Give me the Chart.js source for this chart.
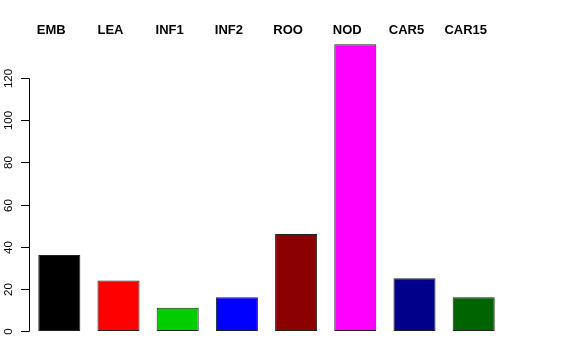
<!DOCTYPE html>
<html>
<head>
<meta charset="utf-8">
<script src="https://cdn.jsdelivr.net/npm/chart.js@4/dist/chart.umd.min.js"></script>
<style>
html,body{margin:0;padding:0;background:#fff;}
#wrap{width:576px;height:360px;position:relative;}
</style>
</head>
<body>
<div id="wrap"><canvas id="c" width="576" height="360"></canvas></div>
<script>
const categories = ["EMB", "LEA", "INF1", "INF2", "ROO", "NOD", "CAR5", "CAR15"];
const values = [36, 24, 11, 16, 46, 136, 25, 16];
const barColors = ["#000000", "#FF0000", "#00CD00", "#0000FF", "#8B0000", "#FF00FF", "#00008B", "#006400"];
const yTickValues = [0, 20, 40, 60, 80, 100, 120];

const yAxisPlugin = {
  id: 'rYAxis',
  afterDraw(chart) {
    const y = chart.scales.y;
    const ctx = chart.ctx;
    const ax = 29;
    ctx.save();
    ctx.strokeStyle = '#000';
    ctx.lineWidth = 1;
    ctx.beginPath();
    ctx.moveTo(ax + 0.5, Math.round(y.getPixelForValue(yTickValues[0])) + 0.5);
    ctx.lineTo(ax + 0.5, Math.round(y.getPixelForValue(yTickValues[yTickValues.length - 1])) + 0.5);
    ctx.stroke();
    ctx.font = '11.5px "Liberation Sans", Arial, sans-serif';
    ctx.fillStyle = '#000';
    ctx.textAlign = 'center';
    ctx.textBaseline = 'middle';
    yTickValues.forEach(v => {
      const py = Math.round(y.getPixelForValue(v)) + 0.5;
      ctx.beginPath();
      ctx.moveTo(ax - 8, py);
      ctx.lineTo(ax + 0.5, py);
      ctx.stroke();
      ctx.save();
      ctx.translate(9, py);
      ctx.rotate(-Math.PI / 2);
      ctx.fillText(String(v), 0, 0);
      ctx.restore();
    });
    ctx.restore();
  }
};

new Chart(document.getElementById('c'), {
  type: 'bar',
  data: {
    labels: categories,
    datasets: [{
      data: values,
      backgroundColor: barColors,
      borderColor: '#222222',
      borderWidth: 1,
      borderSkipped: false,
      barPercentage: 0.71,
      categoryPercentage: 1.0
    }]
  },
  options: {
    responsive: false,
    animation: false,
    devicePixelRatio: 1,
    layout: { padding: { left: 29.7, right: 72.7, top: 21.5, bottom: 29 } },
    plugins: { legend: { display: false }, tooltip: { enabled: false } },
    scales: {
      x: {
        type: 'category',
        position: 'top',
        grid: { display: false, drawTicks: false },
        border: { display: false },
        ticks: {
          color: '#000',
          font: { family: '"Liberation Sans", Arial, sans-serif', size: 13, weight: 'bold' },
          padding: 1.5,
          labelOffset: -8,
          autoSkip: false,
          maxRotation: 0,
          minRotation: 0
        }
      },
      y: {
        display: false,
        min: 0,
        max: 138,
        afterBuildTicks(scale) {
          scale.ticks = yTickValues.map(v => ({ value: v }));
        }
      }
    }
  },
  plugins: [yAxisPlugin]
});
</script>
</body>
</html>
